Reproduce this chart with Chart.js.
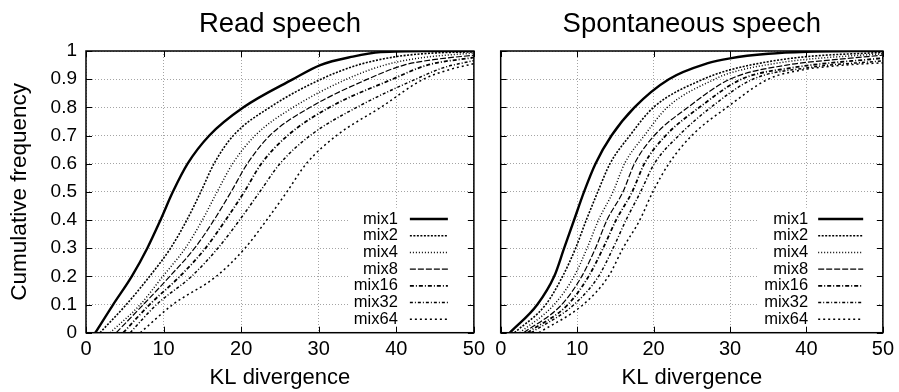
<!DOCTYPE html>
<html>
<head>
<meta charset="utf-8">
<script src="https://cdn.jsdelivr.net/npm/chart.js@4.4.0/dist/chart.umd.min.js"></script>
<style>
  html, body { margin: 0; padding: 0; background: #fff; overflow: hidden; }
  #wrap { position: relative; width: 899px; height: 392px; }
  canvas { position: absolute; top: 0; }
  #readChart { left: 0; }
  #spontChart { left: 490px; }
</style>
</head>
<body>
<div id="wrap">
  <canvas id="readChart" width="490" height="392"></canvas>
  <canvas id="spontChart" width="409" height="392"></canvas>
</div>
<script>
// Courbes de fréquence cumulée de la divergence KL.
// Chaque courbe : valeur de x (KL) atteinte à chaque niveau de fréquence, puis la queue vers 1.

const seriesNames = ["mix1", "mix2", "mix4", "mix8", "mix16", "mix32", "mix64"];
const levels = [0, 0.1, 0.2, 0.3, 0.4, 0.5, 0.6, 0.7, 0.8, 0.9];
const xTickLabels = ["0", "10", "20", "30", "40", "50"];
const yTickLabels = ["0", "0.1", "0.2", "0.3", "0.4", "0.5", "0.6", "0.7", "0.8", "0.9", "1"];

// Read speech
const readX = [
  [1.2, 3.5, 5.9, 7.9, 9.6, 11.2, 13.1, 15.9, 20.3, 26.7],
  [1.8, 5.2, 8.2, 10.9, 13.0, 14.8, 16.5, 19.0, 23.7, 30.3],
  [3.1, 7.0, 9.9, 12.8, 15.0, 16.9, 18.9, 21.8, 26.7, 33.6],
  [3.9, 7.4, 10.8, 14.0, 16.5, 18.7, 20.8, 23.7, 28.9, 36.3],
  [4.8, 8.2, 12.1, 15.4, 18.0, 20.4, 22.6, 26.0, 31.4, 39.5],
  [5.7, 9.1, 13.6, 17.0, 19.8, 22.4, 25.0, 28.9, 34.9, 42.5],
  [7.0, 11.2, 16.8, 20.5, 23.3, 25.9, 28.4, 32.3, 38.0, 43.5]
];
const readTail = [
  [[30.2, 0.95], [34.4, 0.98], [38, 0.996], [44, 1.0], [50, 1.0]],
  [[35, 0.95], [40, 0.98], [45, 0.993], [50, 0.997]],
  [[38.5, 0.95], [43, 0.975], [50, 0.993]],
  [[41, 0.95], [45, 0.97], [50, 0.985]],
  [[44, 0.95], [50, 0.977]],
  [[46, 0.94], [50, 0.966]],
  [[47, 0.935], [50, 0.955]]
];

// Spontaneous speech
const spontX = [
  [1.2, 4.8, 7.0, 8.3, 9.6, 10.9, 12.4, 14.5, 17.5, 22.0],
  [1.8, 5.9, 8.1, 9.8, 11.2, 12.7, 14.3, 16.9, 20.0, 26.5],
  [2.5, 7.0, 9.6, 11.3, 12.8, 14.7, 16.2, 18.8, 21.8, 28.0],
  [3.0, 8.0, 10.6, 12.4, 13.9, 16.0, 17.5, 20.1, 24.5, 30.0],
  [3.5, 8.8, 11.5, 13.4, 15.1, 17.2, 18.8, 21.6, 26.0, 31.5],
  [4.0, 9.6, 12.8, 14.7, 16.4, 18.3, 20.1, 23.3, 27.5, 33.0],
  [5.0, 10.8, 14.1, 16.0, 18.2, 19.9, 22.0, 25.0, 29.6, 35.0]
];
const spontTail = [
  [[27, 0.956], [30, 0.974], [35, 0.99], [40, 0.997], [50, 1.0]],
  [[30, 0.933], [35, 0.962], [40, 0.98], [50, 0.995]],
  [[30, 0.922], [37.4, 0.962], [42, 0.975], [50, 0.99]],
  [[37.4, 0.95], [44, 0.97], [50, 0.985]],
  [[38, 0.94], [50, 0.975]],
  [[40, 0.94], [50, 0.965]],
  [[39.5, 0.933], [45, 0.95], [50, 0.958]]
];

const lineStyles = [
  { w: 2.4, dash: [] },
  { w: 1.6, dash: [2, 1.5] },
  { w: 1.5, dash: [1, 2] },
  { w: 1.2, dash: [6, 2] },
  { w: 1.8, dash: [4, 2, 1, 2] },
  { w: 1.5, dash: [3, 2, 1, 2] },
  { w: 1.5, dash: [2, 3] }
];

const FONT = '"Liberation Sans", Arial, sans-serif';

// cadre noir, petits traits de graduation vers l'intérieur et légende dans le graphique
const framePlugin = {
  id: "frame",
  beforeDatasetsDraw(chart, args, opts) {
    const { ctx, chartArea: a } = chart;
    ctx.save();
    ctx.fillStyle = "#fff";
    ctx.fillRect(a.right - opts.boxLeft, a.bottom - opts.boxTop, opts.boxLeft - 6, opts.boxTop - 5);
    ctx.restore();
  },
  afterDatasetsDraw(chart, args, opts) {
    const { ctx, chartArea: a, scales } = chart;
    ctx.save();
    ctx.strokeStyle = "#000";
    ctx.setLineDash([]);
    ctx.lineWidth = 1;
    const seg = (x1, y1, x2, y2) => {
      ctx.beginPath(); ctx.moveTo(x1, y1); ctx.lineTo(x2, y2); ctx.stroke();
    };
    scales.x.ticks.forEach(t => {
      const px = Math.round(scales.x.getPixelForValue(t.value)) + 0.5;
      seg(px, a.bottom, px, a.bottom - 6);
      seg(px, a.top, px, a.top + 6);
    });
    scales.y.ticks.forEach(t => {
      const py = Math.round(scales.y.getPixelForValue(t.value)) + 0.5;
      seg(a.left, py, a.left + 6, py);
      seg(a.right, py, a.right - 6, py);
    });
    ctx.lineWidth = 1.5;
    ctx.strokeRect(a.left, a.top, a.right - a.left, a.bottom - a.top);

    // légende
    ctx.font = "16.5px " + FONT;
    ctx.fillStyle = "#000";
    ctx.textAlign = "right";
    ctx.textBaseline = "middle";
    chart.data.datasets.forEach((ds, i) => {
      const y = a.bottom - opts.firstRow + i * opts.rowStep;
      ctx.fillText(ds.label, a.right - opts.textRight, y);
      ctx.lineWidth = ds.borderWidth;
      ctx.setLineDash(ds.borderDash);
      seg(a.right - opts.lineFrom, y, a.right - opts.lineTo, y);
    });
    ctx.restore();
  }
};

function buildDatasets(xs, tails) {
  return seriesNames.map((name, i) => ({
    label: name,
    data: levels.map((y, j) => ({ x: xs[i][j], y: y }))
      .concat(tails[i].map(p => ({ x: p[0], y: p[1] }))),
    borderColor: "#000",
    borderWidth: lineStyles[i].w,
    borderDash: lineStyles[i].dash,
    pointRadius: 0,
    fill: false,
    cubicInterpolationMode: "monotone"
  }));
}

function makeChart(canvasId, title, xs, tails, cfg) {
  const ctx = document.getElementById(canvasId).getContext("2d");
  return new Chart(ctx, {
    type: "line",
    data: { datasets: buildDatasets(xs, tails) },
    plugins: [framePlugin],
    options: {
      responsive: false,
      animation: false,
      layout: { padding: { left: 0, right: cfg.padRight, top: 0, bottom: 0 } },
      plugins: {
        legend: { display: false },
        tooltip: { enabled: false },
        title: {
          display: true,
          fullSize: false,
          text: title,
          color: "#000",
          font: { family: FONT, size: 27.5, weight: "normal" },
          padding: { top: 8, bottom: 10 }
        },
        frame: cfg.legend
      },
      scales: {
        x: {
          type: "linear",
          min: 0,
          max: 50,
          afterFit: s => { s.height = 59.3; },
          ticks: {
            stepSize: 10,
            color: "#000",
            padding: 5,
            font: { family: FONT, size: 20 },
            callback: (v, i) => xTickLabels[i]
          },
          grid: { color: "rgba(0,0,0,0.45)", lineWidth: 0.8, drawTicks: false },
          border: { display: false, dash: [1, 2] },
          title: {
            display: true,
            text: "KL divergence",
            color: "#000",
            font: { family: FONT, size: 22 },
            padding: { top: 0, bottom: 1 }
          }
        },
        y: {
          min: 0,
          max: 1,
          afterFit: s => { s.width = cfg.yWidth; },
          ticks: {
            display: cfg.showY,
            stepSize: 0.1,
            color: "#000",
            padding: 9,
            font: { family: FONT, size: 19 },
            callback: (v, i) => yTickLabels[i]
          },
          grid: { color: "rgba(0,0,0,0.45)", lineWidth: 0.8, drawTicks: false },
          border: { display: false, dash: [1, 2] },
          title: {
            display: cfg.showY,
            text: "Cumulative frequency",
            color: "#000",
            font: { family: FONT, size: 22.5 },
            padding: { top: 6, bottom: 0 }
          }
        }
      }
    }
  });
}

makeChart("readChart", "Read speech", readX, readTail, {
  padRight: 16, yWidth: 86, showY: true,
  legend: { firstRow: 113.7, rowStep: 16.7, textRight: 76, lineFrom: 64, lineTo: 26, boxLeft: 124, boxTop: 125 }
});
makeChart("spontChart", "Spontaneous speech", spontX, spontTail, {
  padRight: 11.3, yWidth: 10.7, showY: false,
  legend: { firstRow: 113.7, rowStep: 16.7, textRight: 74.7, lineFrom: 64.7, lineTo: 19.7, boxLeft: 125, boxTop: 125 }
});
</script>
</body>
</html>
